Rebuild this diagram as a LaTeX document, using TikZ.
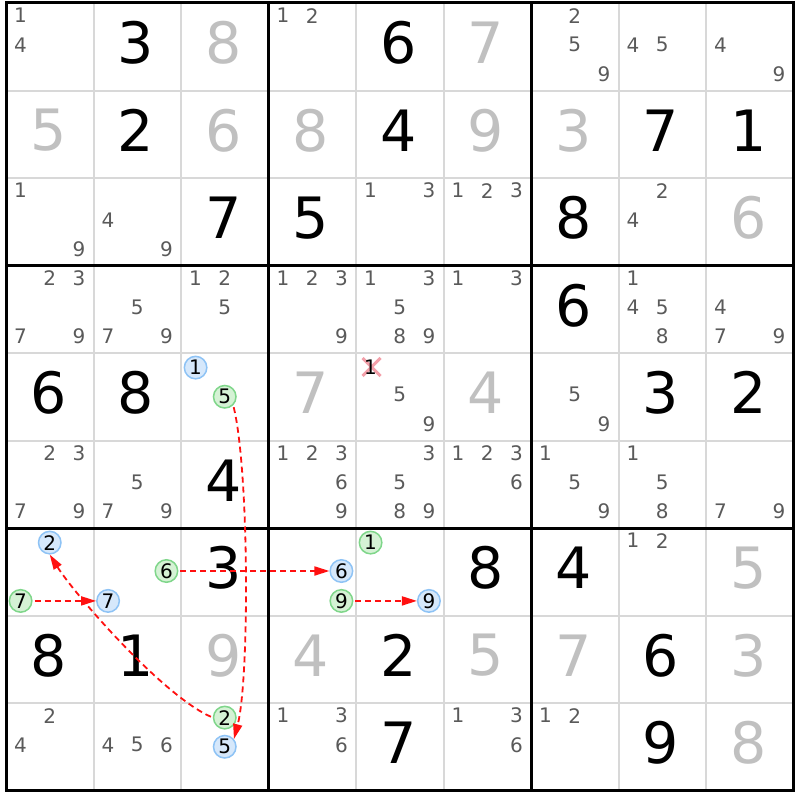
\documentclass[tikz,border=0pt]{standalone}
\usepackage{fontspec}
\setmainfont{DejaVu Sans}
\usetikzlibrary{arrows.meta,shapes.misc}
\definecolor{gridthin}{HTML}{D8D8D8}
\definecolor{candgray}{HTML}{5A5A5A}
\definecolor{solvedgray}{HTML}{C0C0C0}
\definecolor{gfill}{HTML}{D5F2D5}
\definecolor{gline}{HTML}{7FD68A}
\definecolor{bfill}{HTML}{D6E8FB}
\definecolor{bline}{HTML}{8EC3F5}
\definecolor{linkred}{HTML}{FF1010}
\definecolor{xpink}{HTML}{F3A0AA}
\begin{document}
\begin{tikzpicture}[x=1pt,y=-1pt,
  given/.style={font=\fontsize{57}{57}\selectfont, text=black, inner sep=0pt},
  solved/.style={given, text=solvedgray},
  cand/.style={font=\fontsize{20}{20}\selectfont, text=candgray, inner sep=0pt},
  gcirc/.style={circle, draw=gline, fill=gfill, line width=1.5pt, minimum size=22.5pt, inner sep=0pt, font=\fontsize{20}{20}\selectfont, text=black},
  bcirc/.style={gcirc, draw=bline, fill=bfill},
  thinline/.style={draw=gridthin, line width=2pt},
  thickline/.style={draw=black, line width=3pt},
  link/.style={draw=linkred, line width=1.8pt, dash pattern=on 6pt off 4pt, shorten <=2pt, -{Triangle[length=15pt,width=9pt]}},
  xmark/.style={cross out, draw=xpink, line width=3pt, minimum width=18pt, minimum height=18pt, inner sep=0pt, outer sep=0pt}
]
\useasboundingbox[fill=white] (0,0) rectangle (800,800);
\def\L{6}\def\T{3}\def\S{87.5}
% grid
\foreach \i in {1,2,4,5,7,8} {
  \draw[thinline] ({\L+\i*\S},\T) -- ({\L+\i*\S},{\T+9*\S});
  \draw[thinline] (\L,{\T+\i*\S}) -- ({\L+9*\S},{\T+\i*\S});
}
\foreach \i in {3,6} {
  \draw[thickline] ({\L+\i*\S},\T) -- ({\L+\i*\S},{\T+9*\S});
  \draw[thickline] (\L,{\T+\i*\S}) -- ({\L+9*\S},{\T+\i*\S});
}
\draw[thickline] (\L,\T) rectangle ({\L+9*\S},{\T+9*\S});
% given digits
\foreach \r/\c/\d in {0/1/3, 0/4/6, 1/1/2, 1/4/4, 1/7/7, 1/8/1, 2/2/7, 2/3/5, 2/6/8, 3/6/6, 4/0/6, 4/1/8, 4/7/3, 4/8/2, 5/2/4, 6/2/3, 6/5/8, 6/6/4, 7/0/8, 7/1/1, 7/4/2, 7/7/6, 8/4/7, 8/7/9}
  \node[given] (d\r\c) at ({\L+(\c+0.5)*\S-1.5},{\T+(\r+0.5)*\S-4}) {\d};
% solved digits
\foreach \r/\c/\d in {0/2/8, 0/5/7, 1/0/5, 1/2/6, 1/3/8, 1/5/9, 1/6/3, 2/8/6, 4/3/7, 4/5/4, 6/8/5, 7/2/9, 7/3/4, 7/5/5, 7/6/7, 7/8/3, 8/8/8}
  \node[solved] (d\r\c) at ({\L+(\c+0.5)*\S-1.5},{\T+(\r+0.5)*\S-4}) {\d};
% candidates
\foreach \r/\c/\lst in {0/0/{1,4}, 0/3/{1,2}, 0/6/{2,5,9}, 0/7/{4,5}, 0/8/{4,9},
  2/0/{1,9}, 2/1/{4,9}, 2/4/{1,3}, 2/5/{1,2,3}, 2/7/{2,4},
  3/0/{2,3,7,9}, 3/1/{5,7,9}, 3/2/{1,2,5}, 3/3/{1,2,3,9}, 3/4/{1,3,5,8,9}, 3/5/{1,3}, 3/7/{1,4,5,8}, 3/8/{4,7,9},
  4/4/{5,9}, 4/6/{5,9},
  5/0/{2,3,7,9}, 5/1/{5,7,9}, 5/3/{1,2,3,6,9}, 5/4/{3,5,8,9}, 5/5/{1,2,3,6}, 5/6/{1,5,9}, 5/7/{1,5,8}, 5/8/{7,9},
  6/7/{1,2},
  8/0/{2,4}, 8/1/{4,5,6}, 8/3/{1,3,6}, 8/5/{1,3,6}, 8/6/{1,2}} {
  \foreach \v in \lst {
    \pgfmathtruncatemacro\sr{(\v-1)/3}
    \pgfmathtruncatemacro\sc{\v-1-3*\sr}
    \node[cand] (c\r\c\v) at ({\L+\c*\S+(\sc+0.5)*\S/3},{\T+\r*\S+(\sr+0.5)*\S/3-2}) {\v};
  }
}
% eliminated candidate
\coordinate (x441) at (370.6,366.8);
\node[xmark] (xm441) at (371.6,367) {};
\node[cand, text=black] (c441) at (x441) {1};
% highlighted candidates
\node[bcirc] (k421) at (195.58,367.58) {1};
\node[gcirc] (k425) at (224.75,396.75) {5};
\node[bcirc] (k602) at (49.75,542.58) {2};
\node[gcirc] (k607) at (20.58,600.92) {7};
\node[gcirc] (k616) at (166.42,571) {6};
\node[bcirc] (k617) at (108.08,600.92) {7};
\node[bcirc] (k636) at (341.42,571) {6};
\node[gcirc] (k639) at (341.42,600.92) {9};
\node[gcirc] (k641) at (370.58,542.58) {1};
\node[bcirc] (k649) at (428.92,600.92) {9};
\node[gcirc] (k822) at (224.75,717.58) {2};
\node[bcirc] (k825) at (224.75,746.75) {5};
% links
\draw[link] (k425.-45) .. controls +(16,66) and +(15.6,-59.6) .. (k825.40);
\draw[link] (k616.east) -- (k636.west);
\draw[link] (k607) -- (k617);
\draw[link] (k639) -- (k649);
\draw[link] (k822.west) .. controls +(-50,-22) and +(25,40) .. (k602.south);
\end{tikzpicture}
\end{document}
